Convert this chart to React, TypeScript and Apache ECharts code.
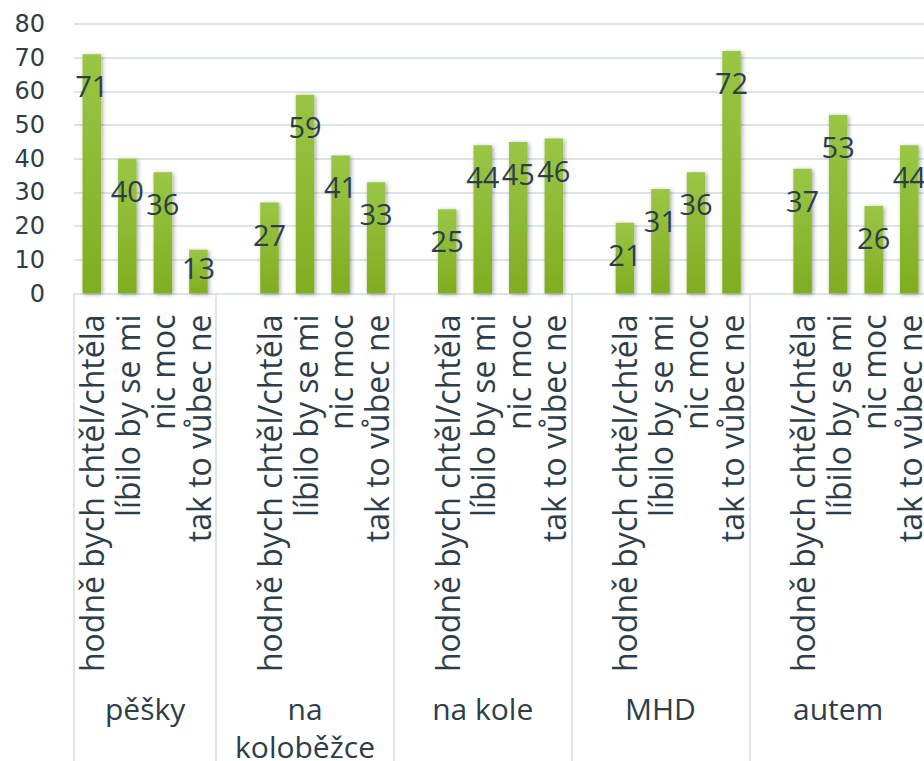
import React, { useEffect, useRef } from "react";
import * as echarts from "echarts";

const groupNames = ["pěšky", "na\nkoloběžce", "na kole", "MHD", "autem"];
const answers = ["hodně bych chtěl/chtěla", "líbilo by se mi", "nic moc", "tak to vůbec ne"];
const peskyValues = [71, 40, 36, 13];
const kolobezkaValues = [27, 59, 41, 33];
const koloValues = [25, 44, 45, 46];
const mhdValues = [21, 31, 36, 72];
const autemValues = [37, 53, 26, 44];
const groupValues = [peskyValues, kolobezkaValues, koloValues, mhdValues, autemValues];
const yMin = 0;
const yMax = 80;
const yStep = 10;

const TEXT = "#2e3e48";
const GRID = "#dde5e9";

export default function App() {
  const ref = useRef<HTMLDivElement>(null);
  useEffect(() => {
    if (!ref.current) return;
    const chart = echarts.init(ref.current, undefined, { renderer: "svg" });

    // build slots: blank slot before every group except the first
    const cats: string[] = [];
    const vals: any[] = [];
    const boundaries: number[] = [];
    const centers: { pos: number; name: string }[] = [];
    groupValues.forEach((gv, gi) => {
      const start = cats.length;
      boundaries.push(start);
      if (gi > 0) {
        cats.push("");
        vals.push(null);
      }
      answers.forEach((a, ai) => {
        cats.push(a);
        const v = gv[ai];
        vals.push(v < 15 ? { value: v, label: { distance: 3 } } : v);
      });
      const end = cats.length;
      centers.push({ pos: (start + end) / 2, name: groupNames[gi] });
    });
    const nSlots = cats.length;

    const option: any = {
      animation: false,
      grid: {
        left: 74,
        top: 24,
        right: -3,
        bottom: 467.5,
        containLabel: false,
        outerBoundsMode: "none",
      },
      xAxis: [
        {
          type: "category",
          data: cats,
          boundaryGap: true,
          axisLine: { show: true, lineStyle: { color: GRID, width: 2 } },
          axisTick: {
            show: true,
            interval: (idx: number) => boundaries.indexOf(idx) >= 0,
            length: 480,
            lineStyle: { color: GRID, width: 2 },
          },
          axisLabel: {
            interval: 0,
            rotate: 90,
            margin: 21,
            color: TEXT,
            fontFamily: "Open Sans",
            fontSize: 32,
          },
          splitLine: { show: false },
        },
        {
          type: "value",
          position: "bottom",
          min: 0,
          max: nSlots,
          interval: 0.5,
          axisLine: { show: false },
          axisTick: { show: false },
          splitLine: { show: false },
          axisLabel: {
            margin: 396,
            color: TEXT,
            fontFamily: "Open Sans",
            fontSize: 30,
            lineHeight: 38,
            align: "center",
            verticalAlign: "top",
            formatter: (v: number) => {
              const c = centers.find((cc) => Math.abs(cc.pos - v) < 1e-6);
              return c ? c.name : "";
            },
          },
        },
      ],
      yAxis: {
        type: "value",
        min: yMin,
        max: yMax,
        interval: yStep,
        axisLine: { show: false },
        axisTick: { show: false },
        axisLabel: {
          margin: 29,
          color: TEXT,
          fontFamily: "DejaVu Sans",
          fontSize: 24,
        },
        splitLine: { show: true, lineStyle: { color: GRID, width: 2 } },
      },
      series: [
        {
          type: "bar",
          xAxisIndex: 0,
          data: vals,
          barWidth: 18.5,
          itemStyle: {
            color: new echarts.graphic.LinearGradient(0, 0, 0, 1, [
              { offset: 0, color: "#9ac646" },
              { offset: 1, color: "#80ad20" },
            ]),
            shadowColor: "rgba(0,0,0,0.35)",
            shadowBlur: 4,
            shadowOffsetX: 1.5,
            shadowOffsetY: 1,
          },
          label: {
            show: true,
            position: "insideTop",
            distance: 17,
            color: TEXT,
            fontFamily: "Open Sans",
            fontSize: 29,
          },
        },
      ],
    };
    chart.setOption(option);
    return () => chart.dispose();
  }, []);
  return (
    <div
      ref={ref}
      style={{ position: "fixed", left: 0, top: 0, width: 924, height: 761, background: "#fff" }}
    />
  );
}
